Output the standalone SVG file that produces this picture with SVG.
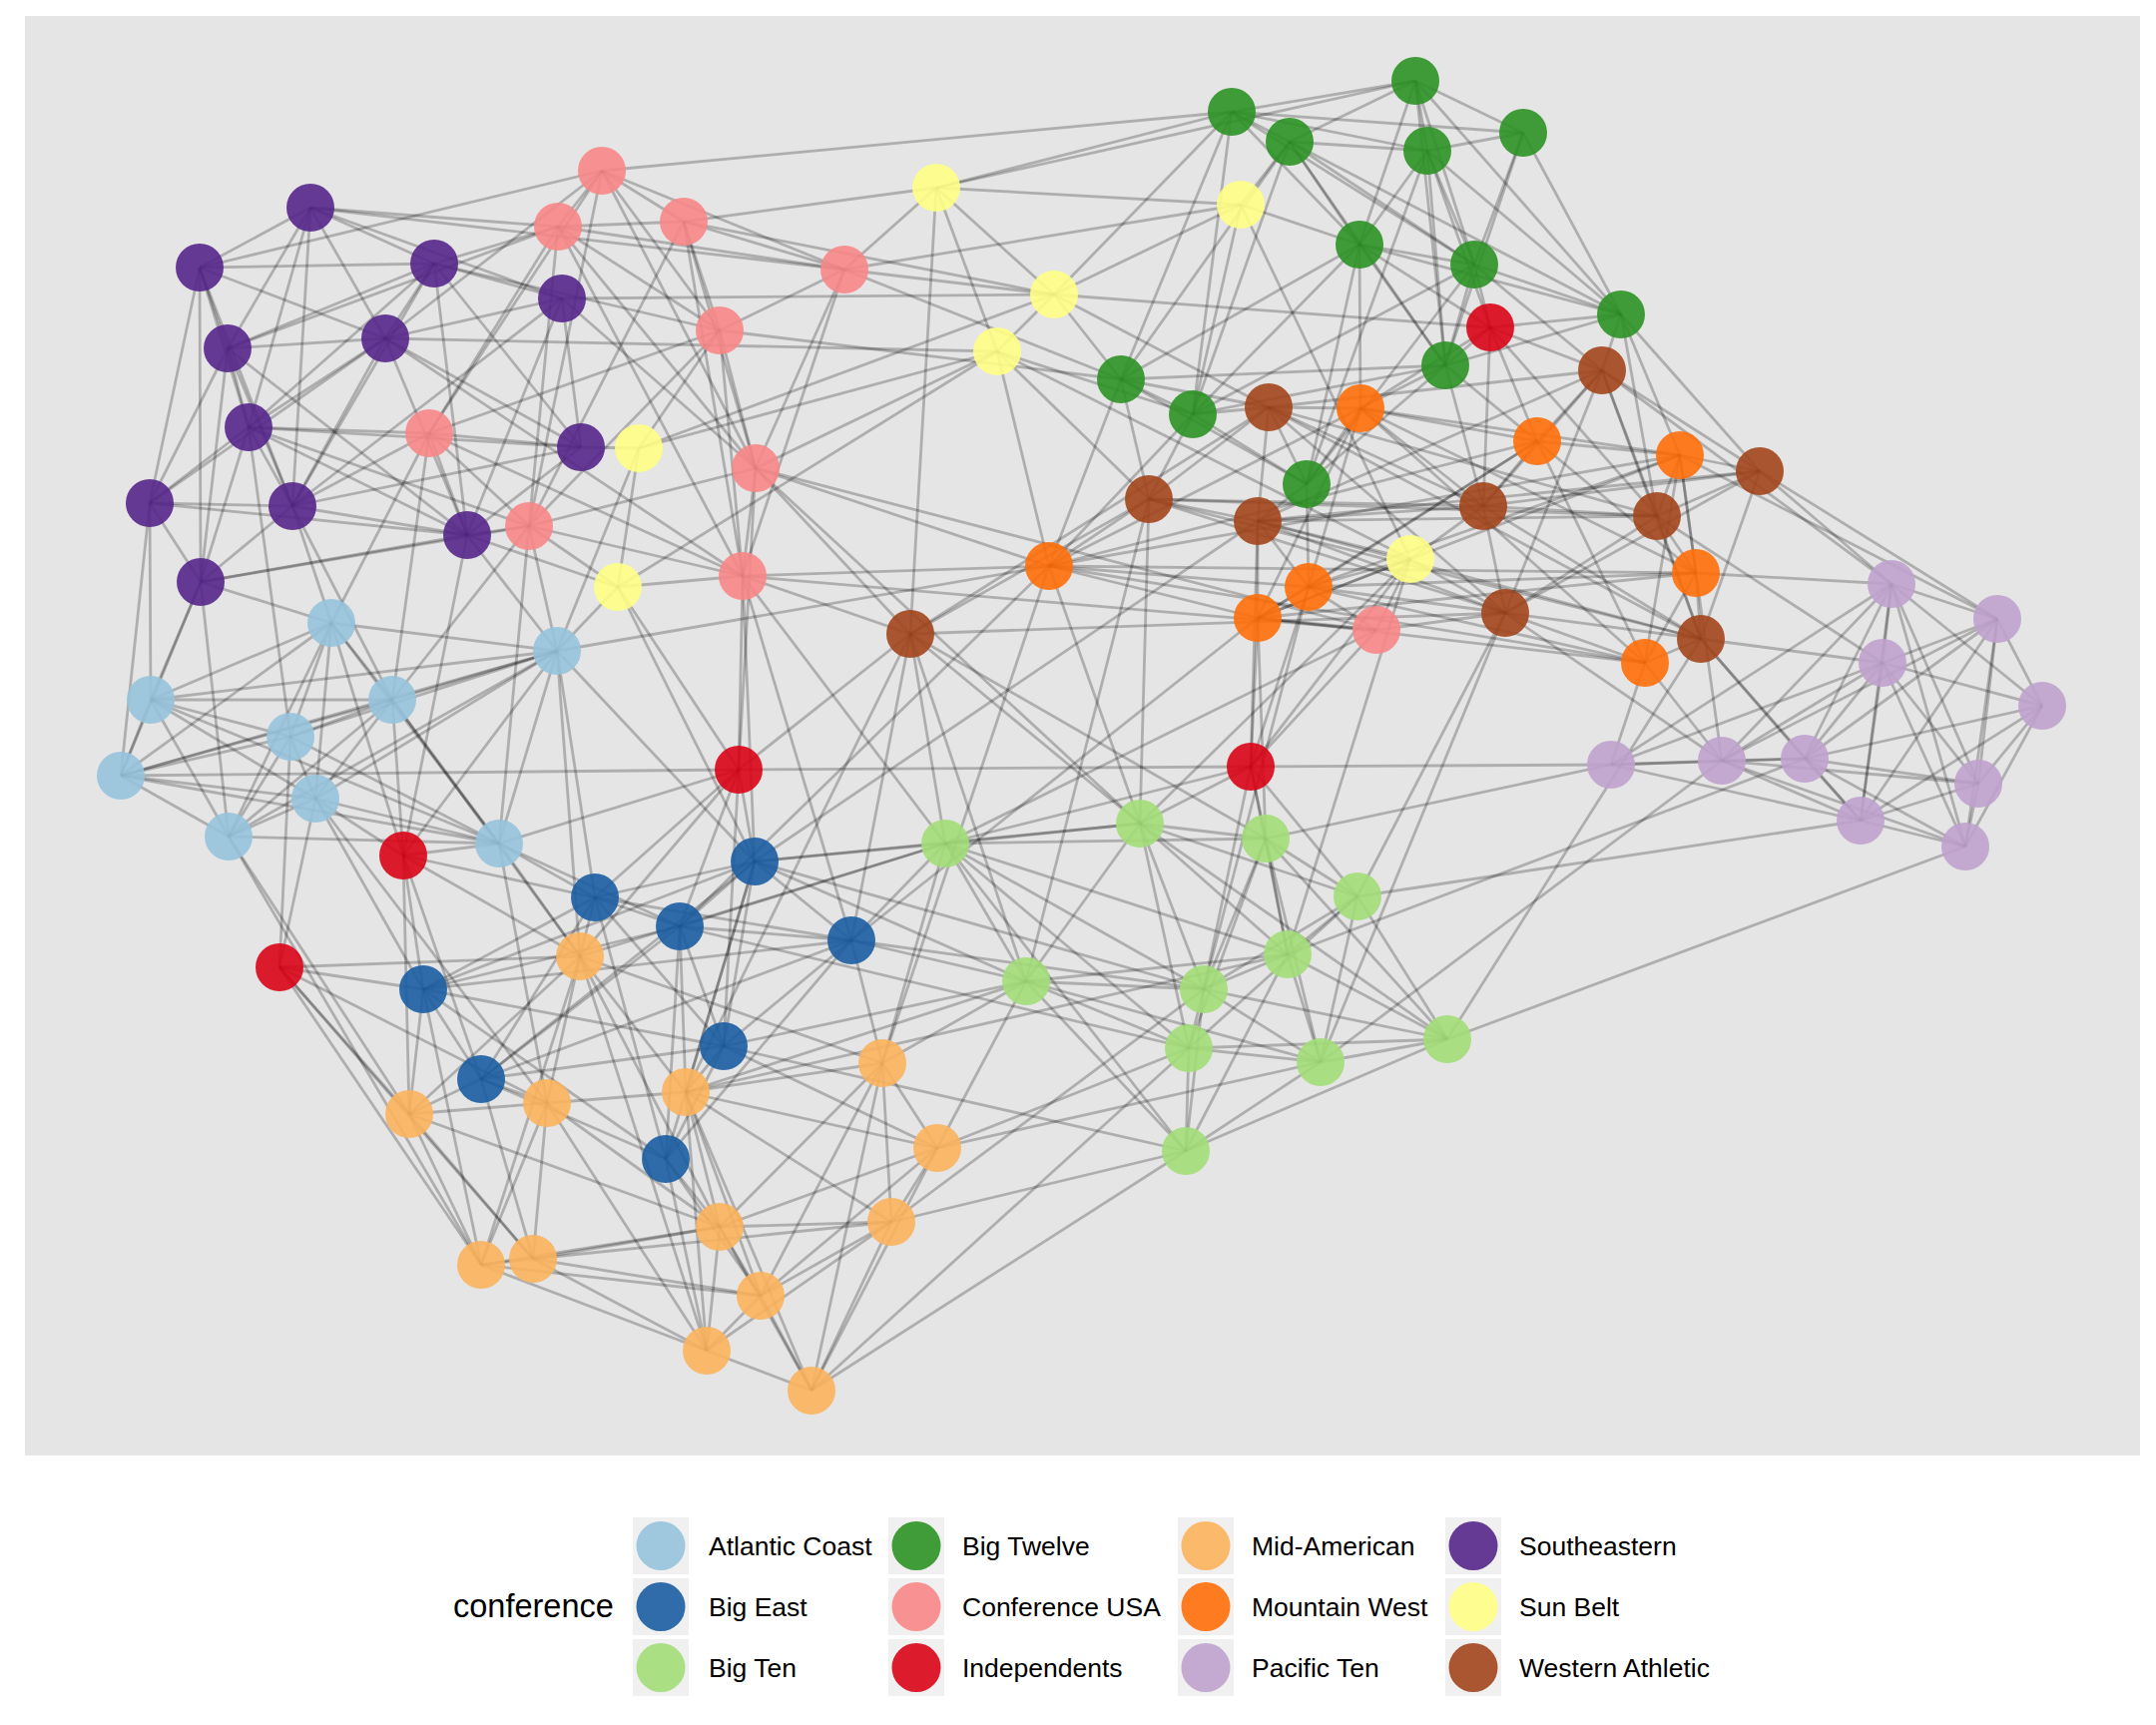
<svg xmlns="http://www.w3.org/2000/svg" width="2160" height="1728" viewBox="0 0 2160 1728">
<style>
#connectors path{fill:none;stroke:#000;stroke-opacity:.24;stroke-width:2.8}
.nd circle,.key circle{fill-opacity:.9}
.ac{fill:#96C3DB}.be{fill:#195DA1}.bt{fill:#A3DD77}.b12{fill:#2C9223}.cu{fill:#F88787}.ind{fill:#D90317}
.mac{fill:#FBB35C}.mw{fill:#FF6E08}.p10{fill:#BFA1CD}.sec{fill:#55268A}.sb{fill:#FFFE85}.wac{fill:#A2451B}
.key rect{fill:#F0F0F0}
text{font-family:"Liberation Sans",Arial,Helvetica,sans-serif;fill:#000}
.lt{font-size:26.5px}
.ttl{font-size:32.5px}
</style>
<rect width="2160" height="1728" fill="#FFFFFF"/>
<rect x="25" y="16" width="2119" height="1442" fill="#E5E5E5"/>
<g id="connectors">
<path d="M332 624 558 652"/><path d="M332 624 151 701"/><path d="M332 624 393 701"/><path d="M332 624 291 738"/><path d="M332 624 121 777"/><path d="M332 624 316 800"/><path d="M332 624 229 838"/><path d="M332 624 500 845"/>
<path d="M558 652 151 701"/><path d="M558 652 393 701"/><path d="M558 652 291 738"/><path d="M558 652 121 777"/><path d="M558 652 316 800"/><path d="M558 652 229 838"/><path d="M558 652 500 845"/>
<path d="M151 701 393 701"/><path d="M151 701 291 738"/><path d="M151 701 121 777"/><path d="M151 701 316 800"/><path d="M151 701 229 838"/><path d="M151 701 500 845"/>
<path d="M393 701 291 738"/><path d="M393 701 121 777"/><path d="M393 701 316 800"/><path d="M393 701 229 838"/><path d="M393 701 500 845"/>
<path d="M291 738 121 777"/><path d="M291 738 316 800"/><path d="M291 738 229 838"/><path d="M291 738 500 845"/>
<path d="M121 777 316 800"/><path d="M121 777 229 838"/><path d="M121 777 500 845"/>
<path d="M316 800 229 838"/><path d="M316 800 500 845"/><path d="M229 838 500 845"/>
<path d="M756 863 596 899"/><path d="M756 863 681 928"/><path d="M756 863 853 942"/><path d="M756 863 424 991"/><path d="M756 863 725 1048"/><path d="M756 863 482 1081"/><path d="M756 863 667 1161"/>
<path d="M596 899 681 928"/><path d="M596 899 853 942"/><path d="M596 899 424 991"/><path d="M596 899 725 1048"/><path d="M596 899 482 1081"/><path d="M596 899 667 1161"/>
<path d="M681 928 853 942"/><path d="M681 928 424 991"/><path d="M681 928 725 1048"/><path d="M681 928 482 1081"/><path d="M681 928 667 1161"/>
<path d="M853 942 424 991"/><path d="M853 942 725 1048"/><path d="M853 942 482 1081"/><path d="M853 942 667 1161"/>
<path d="M424 991 725 1048"/><path d="M424 991 482 1081"/><path d="M424 991 667 1161"/>
<path d="M725 1048 482 1081"/><path d="M725 1048 667 1161"/><path d="M482 1081 667 1161"/>
<path d="M1363 409 1540 442"/><path d="M1363 409 1683 456"/><path d="M1363 409 1051 567"/><path d="M1363 409 1311 588"/><path d="M1363 409 1260 619"/><path d="M1363 409 1699 574"/><path d="M1363 409 1648 664"/>
<path d="M1540 442 1683 456"/><path d="M1540 442 1051 567"/><path d="M1540 442 1311 588"/><path d="M1540 442 1260 619"/><path d="M1540 442 1699 574"/><path d="M1540 442 1648 664"/>
<path d="M1683 456 1051 567"/><path d="M1683 456 1311 588"/><path d="M1683 456 1260 619"/><path d="M1683 456 1699 574"/><path d="M1683 456 1648 664"/>
<path d="M1051 567 1311 588"/><path d="M1051 567 1260 619"/><path d="M1051 567 1699 574"/><path d="M1051 567 1648 664"/>
<path d="M1311 588 1260 619"/><path d="M1311 588 1699 574"/><path d="M1311 588 1648 664"/>
<path d="M1260 619 1699 574"/><path d="M1260 619 1648 664"/><path d="M1699 574 1648 664"/>
<path d="M947 845 1142 825"/><path d="M947 845 1268 840"/><path d="M947 845 1290 956"/><path d="M947 845 1028 983"/><path d="M947 845 1206 991"/><path d="M947 845 1191 1050"/><path d="M947 845 1188 1153"/>
<path d="M1142 825 1268 840"/><path d="M1142 825 1360 898"/><path d="M1142 825 1290 956"/><path d="M1142 825 1028 983"/><path d="M1142 825 1206 991"/><path d="M1142 825 1191 1050"/><path d="M1142 825 1450 1041"/>
<path d="M1268 840 1360 898"/><path d="M1268 840 1290 956"/><path d="M1268 840 1206 991"/><path d="M1268 840 1191 1050"/><path d="M1268 840 1323 1064"/><path d="M1268 840 1450 1041"/>
<path d="M1360 898 1290 956"/><path d="M1360 898 1206 991"/><path d="M1360 898 1191 1050"/><path d="M1360 898 1323 1064"/><path d="M1360 898 1450 1041"/>
<path d="M1290 956 1028 983"/><path d="M1290 956 1206 991"/><path d="M1290 956 1323 1064"/><path d="M1290 956 1450 1041"/><path d="M1290 956 1188 1153"/>
<path d="M1028 983 1206 991"/><path d="M1028 983 1191 1050"/><path d="M1028 983 1323 1064"/><path d="M1028 983 1188 1153"/>
<path d="M1206 991 1191 1050"/><path d="M1206 991 1323 1064"/><path d="M1206 991 1450 1041"/><path d="M1206 991 1188 1153"/>
<path d="M1191 1050 1323 1064"/><path d="M1191 1050 1450 1041"/><path d="M1191 1050 1188 1153"/>
<path d="M1323 1064 1450 1041"/><path d="M1323 1064 1188 1153"/><path d="M1450 1041 1188 1153"/>
<path d="M1418 81 1234 112"/><path d="M1418 81 1292 142"/><path d="M1418 81 1430 151"/><path d="M1418 81 1526 133"/><path d="M1418 81 1362 245"/><path d="M1418 81 1477 265"/><path d="M1418 81 1624 315"/><path d="M1418 81 1448 366"/>
<path d="M1234 112 1292 142"/><path d="M1234 112 1430 151"/><path d="M1234 112 1526 133"/><path d="M1234 112 1362 245"/><path d="M1234 112 1477 265"/><path d="M1234 112 1123 380"/><path d="M1234 112 1195 415"/>
<path d="M1292 142 1430 151"/><path d="M1292 142 1362 245"/><path d="M1292 142 1477 265"/><path d="M1292 142 1624 315"/><path d="M1292 142 1448 366"/><path d="M1292 142 1123 380"/><path d="M1292 142 1195 415"/>
<path d="M1430 151 1526 133"/><path d="M1430 151 1362 245"/><path d="M1430 151 1477 265"/><path d="M1430 151 1624 315"/><path d="M1430 151 1448 366"/><path d="M1430 151 1309 485"/>
<path d="M1526 133 1477 265"/><path d="M1526 133 1624 315"/><path d="M1526 133 1448 366"/>
<path d="M1362 245 1477 265"/><path d="M1362 245 1624 315"/><path d="M1362 245 1448 366"/><path d="M1362 245 1123 380"/><path d="M1362 245 1195 415"/><path d="M1362 245 1309 485"/>
<path d="M1477 265 1624 315"/><path d="M1477 265 1448 366"/><path d="M1477 265 1195 415"/><path d="M1477 265 1309 485"/>
<path d="M1624 315 1448 366"/><path d="M1448 366 1123 380"/><path d="M1448 366 1195 415"/><path d="M1448 366 1309 485"/>
<path d="M1123 380 1195 415"/><path d="M1123 380 1309 485"/><path d="M1195 415 1309 485"/>
<path d="M1895 585 2001 620"/><path d="M1895 585 1886 664"/><path d="M1895 585 2046 707"/><path d="M1895 585 1614 766"/><path d="M1895 585 1725 762"/><path d="M1895 585 1808 760"/><path d="M1895 585 1982 785"/><path d="M1895 585 1864 822"/><path d="M1895 585 1969 848"/>
<path d="M2001 620 1886 664"/><path d="M2001 620 2046 707"/><path d="M2001 620 1725 762"/><path d="M2001 620 1808 760"/><path d="M2001 620 1982 785"/><path d="M2001 620 1864 822"/><path d="M2001 620 1969 848"/>
<path d="M1886 664 2046 707"/><path d="M1886 664 1614 766"/><path d="M1886 664 1725 762"/><path d="M1886 664 1808 760"/><path d="M1886 664 1982 785"/><path d="M1886 664 1864 822"/><path d="M1886 664 1969 848"/>
<path d="M2046 707 1808 760"/><path d="M2046 707 1982 785"/><path d="M2046 707 1864 822"/><path d="M2046 707 1969 848"/>
<path d="M1614 766 1725 762"/><path d="M1614 766 1808 760"/><path d="M1614 766 1864 822"/>
<path d="M1725 762 1808 760"/><path d="M1725 762 1982 785"/><path d="M1725 762 1864 822"/><path d="M1725 762 1969 848"/>
<path d="M1808 760 1982 785"/><path d="M1808 760 1864 822"/><path d="M1808 760 1969 848"/>
<path d="M1982 785 1864 822"/><path d="M1982 785 1969 848"/><path d="M1864 822 1969 848"/>
<path d="M311 208 200 268"/><path d="M311 208 435 264"/><path d="M311 208 563 299"/><path d="M311 208 228 349"/><path d="M311 208 386 339"/><path d="M311 208 249 428"/><path d="M311 208 293 507"/>
<path d="M200 268 435 264"/><path d="M200 268 228 349"/><path d="M200 268 386 339"/><path d="M200 268 249 428"/><path d="M200 268 150 504"/><path d="M200 268 293 507"/><path d="M200 268 201 583"/>
<path d="M435 264 563 299"/><path d="M435 264 228 349"/><path d="M435 264 386 339"/><path d="M435 264 249 428"/><path d="M435 264 582 448"/><path d="M435 264 293 507"/><path d="M435 264 468 536"/>
<path d="M563 299 386 339"/><path d="M563 299 582 448"/><path d="M563 299 293 507"/><path d="M563 299 468 536"/>
<path d="M228 349 386 339"/><path d="M228 349 249 428"/><path d="M228 349 150 504"/><path d="M228 349 293 507"/><path d="M228 349 468 536"/><path d="M228 349 201 583"/>
<path d="M386 339 249 428"/><path d="M386 339 582 448"/><path d="M386 339 150 504"/><path d="M386 339 293 507"/><path d="M386 339 468 536"/>
<path d="M249 428 582 448"/><path d="M249 428 150 504"/><path d="M249 428 293 507"/><path d="M249 428 468 536"/><path d="M249 428 201 583"/>
<path d="M582 448 293 507"/><path d="M582 448 468 536"/><path d="M150 504 293 507"/><path d="M150 504 201 583"/>
<path d="M293 507 468 536"/><path d="M293 507 201 583"/><path d="M468 536 201 583"/>
<path d="M603 171 559 227"/><path d="M603 171 685 222"/><path d="M603 171 846 270"/><path d="M603 171 721 331"/><path d="M603 171 430 434"/><path d="M603 171 757 469"/><path d="M603 171 530 527"/>
<path d="M559 227 685 222"/><path d="M559 227 846 270"/><path d="M559 227 721 331"/><path d="M559 227 430 434"/><path d="M559 227 757 469"/><path d="M559 227 530 527"/><path d="M559 227 744 577"/>
<path d="M685 222 846 270"/><path d="M685 222 721 331"/><path d="M685 222 757 469"/><path d="M685 222 530 527"/><path d="M685 222 744 577"/>
<path d="M846 270 721 331"/><path d="M846 270 757 469"/><path d="M846 270 744 577"/>
<path d="M721 331 430 434"/><path d="M721 331 757 469"/><path d="M721 331 530 527"/><path d="M721 331 744 577"/>
<path d="M430 434 530 527"/><path d="M430 434 744 577"/>
<path d="M757 469 530 527"/><path d="M757 469 744 577"/><path d="M757 469 1379 631"/><path d="M530 527 744 577"/><path d="M744 577 1379 631"/>
<path d="M581 958 410 1116"/><path d="M581 958 548 1105"/><path d="M581 958 687 1094"/><path d="M581 958 884 1065"/><path d="M581 958 721 1229"/><path d="M581 958 482 1267"/><path d="M581 958 708 1353"/>
<path d="M410 1116 548 1105"/><path d="M410 1116 721 1229"/><path d="M410 1116 482 1267"/><path d="M410 1116 534 1261"/>
<path d="M548 1105 687 1094"/><path d="M548 1105 721 1229"/><path d="M548 1105 482 1267"/><path d="M548 1105 534 1261"/><path d="M548 1105 708 1353"/>
<path d="M687 1094 884 1065"/><path d="M687 1094 939 1150"/><path d="M687 1094 721 1229"/><path d="M687 1094 893 1224"/><path d="M687 1094 762 1298"/><path d="M687 1094 708 1353"/><path d="M687 1094 813 1393"/>
<path d="M884 1065 939 1150"/><path d="M884 1065 721 1229"/><path d="M884 1065 893 1224"/><path d="M884 1065 762 1298"/><path d="M884 1065 813 1393"/>
<path d="M939 1150 721 1229"/><path d="M939 1150 893 1224"/><path d="M939 1150 762 1298"/><path d="M939 1150 813 1393"/>
<path d="M721 1229 893 1224"/><path d="M721 1229 482 1267"/><path d="M721 1229 534 1261"/><path d="M721 1229 762 1298"/><path d="M721 1229 708 1353"/><path d="M721 1229 813 1393"/>
<path d="M893 1224 534 1261"/><path d="M893 1224 762 1298"/><path d="M893 1224 708 1353"/><path d="M893 1224 813 1393"/>
<path d="M482 1267 534 1261"/><path d="M482 1267 762 1298"/><path d="M482 1267 708 1353"/>
<path d="M534 1261 762 1298"/><path d="M534 1261 708 1353"/><path d="M762 1298 708 1353"/><path d="M762 1298 813 1393"/><path d="M708 1353 813 1393"/>
<path d="M1271 408 1605 371"/><path d="M1271 408 1151 500"/><path d="M1271 408 1260 522"/><path d="M1271 408 1486 507"/><path d="M1271 408 1660 517"/><path d="M1271 408 1508 614"/><path d="M1271 408 1704 640"/><path d="M1271 408 912 635"/>
<path d="M1605 371 1260 522"/><path d="M1605 371 1486 507"/><path d="M1605 371 1763 472"/><path d="M1605 371 1660 517"/><path d="M1605 371 1508 614"/><path d="M1605 371 1704 640"/>
<path d="M1151 500 1260 522"/><path d="M1151 500 1486 507"/><path d="M1151 500 1660 517"/><path d="M1151 500 1508 614"/><path d="M1151 500 1704 640"/><path d="M1151 500 912 635"/>
<path d="M1260 522 1486 507"/><path d="M1260 522 1763 472"/><path d="M1260 522 1660 517"/><path d="M1260 522 1508 614"/><path d="M1260 522 1704 640"/>
<path d="M1486 507 1763 472"/><path d="M1486 507 1660 517"/><path d="M1486 507 1508 614"/><path d="M1486 507 1704 640"/>
<path d="M1763 472 1660 517"/><path d="M1763 472 1508 614"/><path d="M1763 472 1704 640"/>
<path d="M1660 517 1508 614"/><path d="M1660 517 1704 640"/><path d="M1508 614 1704 640"/><path d="M1508 614 912 635"/>
<path d="M938 188 1243 205"/><path d="M938 188 1056 295"/><path d="M938 188 999 352"/><path d="M1243 205 1056 295"/><path d="M1056 295 999 352"/><path d="M999 352 640 449"/><path d="M640 449 619 588"/><path d="M640 449 1056 295"/><path d="M999 352 1413 560"/><path d="M1243 205 1413 560"/><path d="M619 588 999 352"/>
<path d="M1493 328 1477 265"/><path d="M1493 328 1448 366"/><path d="M1493 328 1624 315"/><path d="M1493 328 1605 371"/><path d="M1493 328 1540 442"/><path d="M1493 328 1486 507"/><path d="M1493 328 1362 245"/><path d="M1493 328 1363 409"/><path d="M1493 328 1056 295"/><path d="M1493 328 1430 151"/><path d="M1493 328 1660 517"/>
<path d="M740 771 744 577"/><path d="M740 771 757 469"/><path d="M740 771 756 863"/><path d="M740 771 596 899"/><path d="M740 771 681 928"/><path d="M740 771 500 845"/><path d="M740 771 121 777"/><path d="M740 771 1253 768"/><path d="M740 771 619 588"/><path d="M740 771 581 958"/><path d="M740 771 912 635"/><path d="M740 771 725 1048"/>
<path d="M1253 768 1142 825"/><path d="M1253 768 1268 840"/><path d="M1253 768 1290 956"/><path d="M1253 768 1260 619"/><path d="M1253 768 1311 588"/><path d="M1253 768 1379 631"/><path d="M1253 768 1614 766"/><path d="M1253 768 1360 898"/><path d="M1253 768 1260 522"/><path d="M1253 768 1413 560"/><path d="M1253 768 1206 991"/>
<path d="M404 857 393 701"/><path d="M404 857 316 800"/><path d="M404 857 500 845"/><path d="M404 857 424 991"/><path d="M404 857 482 1081"/><path d="M404 857 410 1116"/><path d="M404 857 581 958"/><path d="M404 857 332 624"/><path d="M404 857 558 652"/><path d="M404 857 596 899"/><path d="M404 857 468 536"/>
<path d="M280 969 410 1116"/><path d="M280 969 482 1267"/><path d="M280 969 316 800"/><path d="M280 969 424 991"/><path d="M280 969 581 958"/><path d="M280 969 534 1261"/><path d="M280 969 291 738"/><path d="M280 969 548 1105"/>
<path d="M311 208 559 227"/><path d="M311 208 846 270"/><path d="M200 268 603 171"/><path d="M435 264 559 227"/><path d="M386 339 603 171"/><path d="M293 507 430 434"/><path d="M468 536 530 527"/><path d="M249 428 530 527"/><path d="M563 299 757 469"/><path d="M582 448 430 434"/><path d="M228 349 559 227"/><path d="M435 264 721 331"/><path d="M386 339 744 577"/>
<path d="M582 448 640 449"/><path d="M468 536 619 588"/><path d="M563 299 1056 295"/><path d="M386 339 999 352"/><path d="M150 504 121 777"/><path d="M201 583 151 701"/><path d="M201 583 332 624"/><path d="M293 507 332 624"/><path d="M249 428 291 738"/><path d="M150 504 151 701"/><path d="M468 536 558 652"/><path d="M293 507 393 701"/><path d="M201 583 229 838"/><path d="M249 428 430 434"/><path d="M150 504 468 536"/><path d="M201 583 530 527"/><path d="M430 434 468 536"/><path d="M121 777 201 583"/>
<path d="M721 331 640 449"/><path d="M530 527 619 588"/><path d="M744 577 619 588"/><path d="M685 222 938 188"/><path d="M846 270 938 188"/><path d="M846 270 1056 295"/><path d="M757 469 999 352"/><path d="M603 171 1234 112"/><path d="M846 270 1123 380"/><path d="M721 331 1123 380"/><path d="M846 270 1243 205"/><path d="M744 577 756 863"/><path d="M430 434 332 624"/><path d="M430 434 393 701"/><path d="M530 527 558 652"/><path d="M744 577 912 635"/><path d="M757 469 912 635"/><path d="M685 222 1056 295"/><path d="M530 527 500 845"/><path d="M757 469 1051 567"/><path d="M744 577 1051 567"/><path d="M1379 631 1260 619"/><path d="M1379 631 1508 614"/><path d="M1379 631 1311 588"/><path d="M1379 631 1413 560"/>
<path d="M938 188 1234 112"/><path d="M938 188 1418 81"/><path d="M938 188 912 635"/><path d="M1243 205 1292 142"/><path d="M1243 205 1362 245"/><path d="M1243 205 1195 415"/><path d="M1056 295 1123 380"/><path d="M999 352 1195 415"/><path d="M1056 295 1234 112"/><path d="M999 352 1151 500"/><path d="M1056 295 1271 408"/><path d="M1413 560 1486 507"/><path d="M1413 560 1311 588"/><path d="M1413 560 1508 614"/><path d="M1413 560 1260 619"/><path d="M1413 560 1260 522"/><path d="M999 352 1051 567"/><path d="M619 588 558 652"/>
<path d="M1309 485 1260 522"/><path d="M1309 485 1363 409"/><path d="M1309 485 1271 408"/><path d="M1448 366 1486 507"/><path d="M1477 265 1605 371"/><path d="M1624 315 1605 371"/><path d="M1624 315 1763 472"/><path d="M1195 415 1151 500"/><path d="M1123 380 1151 500"/><path d="M1362 245 1363 409"/><path d="M1448 366 1540 442"/><path d="M1309 485 1311 588"/><path d="M1195 415 1051 567"/><path d="M1123 380 1051 567"/><path d="M1448 366 1363 409"/><path d="M1195 415 1271 408"/><path d="M1123 380 1271 408"/><path d="M1624 315 1683 456"/><path d="M1624 315 1660 517"/>
<path d="M1363 409 1271 408"/><path d="M1540 442 1486 507"/><path d="M1683 456 1763 472"/><path d="M1683 456 1660 517"/><path d="M1699 574 1704 640"/><path d="M1648 664 1704 640"/><path d="M1648 664 1508 614"/><path d="M1260 619 1260 522"/><path d="M1311 588 1260 522"/><path d="M1051 567 1151 500"/><path d="M1540 442 1605 371"/><path d="M1699 574 1660 517"/><path d="M1311 588 1508 614"/><path d="M1363 409 1486 507"/>
<path d="M1763 472 1895 585"/><path d="M1704 640 1886 664"/><path d="M1699 574 1895 585"/><path d="M1648 664 1614 766"/><path d="M1683 456 2001 620"/><path d="M1660 517 1886 664"/><path d="M1648 664 1725 762"/><path d="M1508 614 1725 762"/><path d="M1605 371 1895 585"/><path d="M1763 472 2001 620"/><path d="M1704 640 1808 760"/><path d="M1683 456 1725 762"/><path d="M1704 640 1864 822"/>
<path d="M1450 1041 1969 848"/><path d="M1360 898 1864 822"/><path d="M1290 956 1808 760"/><path d="M1268 840 1614 766"/><path d="M1323 1064 1725 762"/>
<path d="M1028 983 884 1065"/><path d="M947 845 884 1065"/><path d="M1188 1153 893 1224"/><path d="M1188 1153 813 1393"/><path d="M1191 1050 939 1150"/><path d="M1028 983 939 1150"/><path d="M1028 983 687 1094"/><path d="M947 845 581 958"/><path d="M1191 1050 813 1393"/><path d="M1323 1064 939 1150"/><path d="M1206 991 893 1224"/>
<path d="M947 845 853 942"/><path d="M1028 983 853 942"/><path d="M947 845 756 863"/><path d="M1206 991 853 942"/><path d="M1142 825 756 863"/><path d="M1028 983 725 1048"/>
<path d="M1268 840 1260 619"/><path d="M1142 825 1051 567"/><path d="M947 845 912 635"/><path d="M1028 983 912 635"/><path d="M1206 991 1311 588"/><path d="M1323 1064 1508 614"/><path d="M1450 1041 1704 640"/><path d="M1290 956 1413 560"/><path d="M1360 898 1508 614"/><path d="M1142 825 1151 500"/>
<path d="M596 899 581 958"/><path d="M681 928 687 1094"/><path d="M725 1048 687 1094"/><path d="M667 1161 721 1229"/><path d="M667 1161 762 1298"/><path d="M482 1081 410 1116"/><path d="M482 1081 548 1105"/><path d="M424 991 410 1116"/><path d="M853 942 884 1065"/><path d="M756 863 687 1094"/><path d="M725 1048 939 1150"/><path d="M667 1161 708 1353"/><path d="M424 991 482 1267"/><path d="M482 1081 534 1261"/>
<path d="M596 899 558 652"/><path d="M424 991 316 800"/><path d="M681 928 500 845"/><path d="M756 863 558 652"/><path d="M596 899 500 845"/><path d="M756 863 619 588"/><path d="M853 942 744 577"/><path d="M853 942 912 635"/>
<path d="M500 845 581 958"/><path d="M558 652 581 958"/><path d="M229 838 410 1116"/><path d="M316 800 548 1105"/><path d="M393 701 581 958"/><path d="M229 838 482 1267"/><path d="M500 845 548 1105"/>
<path d="M558 652 640 449"/><path d="M393 701 530 527"/><path d="M558 652 1051 567"/>
<path d="M947 845 1253 768"/><path d="M947 845 744 577"/><path d="M1142 825 912 635"/><path d="M1028 983 756 863"/><path d="M947 845 681 928"/><path d="M1206 991 756 863"/><path d="M1268 840 912 635"/><path d="M1191 1050 681 928"/><path d="M1188 1153 725 1048"/><path d="M1290 956 687 1094"/>
<path d="M1260 619 853 942"/><path d="M1051 567 681 928"/><path d="M1260 522 756 863"/><path d="M1379 631 947 845"/><path d="M1151 500 1028 983"/><path d="M1413 560 1142 825"/><path d="M1051 567 884 1065"/><path d="M757 469 1142 825"/><path d="M912 635 687 1094"/>
</g>
<g id="nodes">
<g id="n-a1" class="nd"><circle class="ac" cx="332" cy="624" r="24"/></g>
<g id="n-a2" class="nd"><circle class="ac" cx="558" cy="652" r="24"/></g>
<g id="n-a3" class="nd"><circle class="ac" cx="151" cy="701" r="24"/></g>
<g id="n-a4" class="nd"><circle class="ac" cx="393" cy="701" r="24"/></g>
<g id="n-a5" class="nd"><circle class="ac" cx="291" cy="738" r="24"/></g>
<g id="n-a6" class="nd"><circle class="ac" cx="121" cy="777" r="24"/></g>
<g id="n-a7" class="nd"><circle class="ac" cx="316" cy="800" r="24"/></g>
<g id="n-a8" class="nd"><circle class="ac" cx="229" cy="838" r="24"/></g>
<g id="n-a9" class="nd"><circle class="ac" cx="500" cy="845" r="24"/></g>
<g id="n-e1" class="nd"><circle class="be" cx="756" cy="863" r="24"/></g>
<g id="n-e2" class="nd"><circle class="be" cx="596" cy="899" r="24"/></g>
<g id="n-e3" class="nd"><circle class="be" cx="681" cy="928" r="24"/></g>
<g id="n-e4" class="nd"><circle class="be" cx="853" cy="942" r="24"/></g>
<g id="n-e5" class="nd"><circle class="be" cx="424" cy="991" r="24"/></g>
<g id="n-e6" class="nd"><circle class="be" cx="725" cy="1048" r="24"/></g>
<g id="n-e7" class="nd"><circle class="be" cx="482" cy="1081" r="24"/></g>
<g id="n-e8" class="nd"><circle class="be" cx="667" cy="1161" r="24"/></g>
<g id="n-t1" class="nd"><circle class="bt" cx="947" cy="845" r="24"/></g>
<g id="n-t2" class="nd"><circle class="bt" cx="1142" cy="825" r="24"/></g>
<g id="n-t3" class="nd"><circle class="bt" cx="1268" cy="840" r="24"/></g>
<g id="n-t4" class="nd"><circle class="bt" cx="1360" cy="898" r="24"/></g>
<g id="n-t5" class="nd"><circle class="bt" cx="1290" cy="956" r="24"/></g>
<g id="n-t6" class="nd"><circle class="bt" cx="1028" cy="983" r="24"/></g>
<g id="n-t7" class="nd"><circle class="bt" cx="1206" cy="991" r="24"/></g>
<g id="n-t8" class="nd"><circle class="bt" cx="1191" cy="1050" r="24"/></g>
<g id="n-t9" class="nd"><circle class="bt" cx="1323" cy="1064" r="24"/></g>
<g id="n-t10" class="nd"><circle class="bt" cx="1450" cy="1041" r="24"/></g>
<g id="n-t11" class="nd"><circle class="bt" cx="1188" cy="1153" r="24"/></g>
<g id="n-g1" class="nd"><circle class="b12" cx="1418" cy="81" r="24"/></g>
<g id="n-g2" class="nd"><circle class="b12" cx="1234" cy="112" r="24"/></g>
<g id="n-g3" class="nd"><circle class="b12" cx="1292" cy="142" r="24"/></g>
<g id="n-g4" class="nd"><circle class="b12" cx="1430" cy="151" r="24"/></g>
<g id="n-g5" class="nd"><circle class="b12" cx="1526" cy="133" r="24"/></g>
<g id="n-g6" class="nd"><circle class="b12" cx="1362" cy="245" r="24"/></g>
<g id="n-g7" class="nd"><circle class="b12" cx="1477" cy="265" r="24"/></g>
<g id="n-g8" class="nd"><circle class="b12" cx="1624" cy="315" r="24"/></g>
<g id="n-g9" class="nd"><circle class="b12" cx="1448" cy="366" r="24"/></g>
<g id="n-g10" class="nd"><circle class="b12" cx="1123" cy="380" r="24"/></g>
<g id="n-g11" class="nd"><circle class="b12" cx="1195" cy="415" r="24"/></g>
<g id="n-g12" class="nd"><circle class="b12" cx="1309" cy="485" r="24"/></g>
<g id="n-c1" class="nd"><circle class="cu" cx="603" cy="171" r="24"/></g>
<g id="n-c2" class="nd"><circle class="cu" cx="559" cy="227" r="24"/></g>
<g id="n-c3" class="nd"><circle class="cu" cx="685" cy="222" r="24"/></g>
<g id="n-c4" class="nd"><circle class="cu" cx="846" cy="270" r="24"/></g>
<g id="n-c5" class="nd"><circle class="cu" cx="721" cy="331" r="24"/></g>
<g id="n-c6" class="nd"><circle class="cu" cx="430" cy="434" r="24"/></g>
<g id="n-c7" class="nd"><circle class="cu" cx="757" cy="469" r="24"/></g>
<g id="n-c8" class="nd"><circle class="cu" cx="530" cy="527" r="24"/></g>
<g id="n-c9" class="nd"><circle class="cu" cx="744" cy="577" r="24"/></g>
<g id="n-c10" class="nd"><circle class="cu" cx="1379" cy="631" r="24"/></g>
<g id="n-i1" class="nd"><circle class="ind" cx="1493" cy="328" r="24"/></g>
<g id="n-i2" class="nd"><circle class="ind" cx="740" cy="771" r="24"/></g>
<g id="n-i3" class="nd"><circle class="ind" cx="1253" cy="768" r="24"/></g>
<g id="n-i4" class="nd"><circle class="ind" cx="404" cy="857" r="24"/></g>
<g id="n-i5" class="nd"><circle class="ind" cx="280" cy="969" r="24"/></g>
<g id="n-m1" class="nd"><circle class="mac" cx="581" cy="958" r="24"/></g>
<g id="n-m2" class="nd"><circle class="mac" cx="410" cy="1116" r="24"/></g>
<g id="n-m3" class="nd"><circle class="mac" cx="548" cy="1105" r="24"/></g>
<g id="n-m4" class="nd"><circle class="mac" cx="687" cy="1094" r="24"/></g>
<g id="n-m5" class="nd"><circle class="mac" cx="884" cy="1065" r="24"/></g>
<g id="n-m6" class="nd"><circle class="mac" cx="939" cy="1150" r="24"/></g>
<g id="n-m7" class="nd"><circle class="mac" cx="721" cy="1229" r="24"/></g>
<g id="n-m8" class="nd"><circle class="mac" cx="893" cy="1224" r="24"/></g>
<g id="n-m9" class="nd"><circle class="mac" cx="482" cy="1267" r="24"/></g>
<g id="n-m10" class="nd"><circle class="mac" cx="534" cy="1261" r="24"/></g>
<g id="n-m11" class="nd"><circle class="mac" cx="762" cy="1298" r="24"/></g>
<g id="n-m12" class="nd"><circle class="mac" cx="708" cy="1353" r="24"/></g>
<g id="n-m13" class="nd"><circle class="mac" cx="813" cy="1393" r="24"/></g>
<g id="n-w1" class="nd"><circle class="mw" cx="1363" cy="409" r="24"/></g>
<g id="n-w2" class="nd"><circle class="mw" cx="1540" cy="442" r="24"/></g>
<g id="n-w3" class="nd"><circle class="mw" cx="1683" cy="456" r="24"/></g>
<g id="n-w4" class="nd"><circle class="mw" cx="1051" cy="567" r="24"/></g>
<g id="n-w5" class="nd"><circle class="mw" cx="1311" cy="588" r="24"/></g>
<g id="n-w6" class="nd"><circle class="mw" cx="1260" cy="619" r="24"/></g>
<g id="n-w7" class="nd"><circle class="mw" cx="1699" cy="574" r="24"/></g>
<g id="n-w8" class="nd"><circle class="mw" cx="1648" cy="664" r="24"/></g>
<g id="n-p1" class="nd"><circle class="p10" cx="1895" cy="585" r="24"/></g>
<g id="n-p2" class="nd"><circle class="p10" cx="2001" cy="620" r="24"/></g>
<g id="n-p3" class="nd"><circle class="p10" cx="1886" cy="664" r="24"/></g>
<g id="n-p4" class="nd"><circle class="p10" cx="2046" cy="707" r="24"/></g>
<g id="n-p5" class="nd"><circle class="p10" cx="1614" cy="766" r="24"/></g>
<g id="n-p6" class="nd"><circle class="p10" cx="1725" cy="762" r="24"/></g>
<g id="n-p7" class="nd"><circle class="p10" cx="1808" cy="760" r="24"/></g>
<g id="n-p8" class="nd"><circle class="p10" cx="1982" cy="785" r="24"/></g>
<g id="n-p9" class="nd"><circle class="p10" cx="1864" cy="822" r="24"/></g>
<g id="n-p10" class="nd"><circle class="p10" cx="1969" cy="848" r="24"/></g>
<g id="n-s1" class="nd"><circle class="sec" cx="311" cy="208" r="24"/></g>
<g id="n-s2" class="nd"><circle class="sec" cx="200" cy="268" r="24"/></g>
<g id="n-s3" class="nd"><circle class="sec" cx="435" cy="264" r="24"/></g>
<g id="n-s4" class="nd"><circle class="sec" cx="563" cy="299" r="24"/></g>
<g id="n-s5" class="nd"><circle class="sec" cx="228" cy="349" r="24"/></g>
<g id="n-s6" class="nd"><circle class="sec" cx="386" cy="339" r="24"/></g>
<g id="n-s7" class="nd"><circle class="sec" cx="249" cy="428" r="24"/></g>
<g id="n-s8" class="nd"><circle class="sec" cx="582" cy="448" r="24"/></g>
<g id="n-s9" class="nd"><circle class="sec" cx="150" cy="504" r="24"/></g>
<g id="n-s10" class="nd"><circle class="sec" cx="293" cy="507" r="24"/></g>
<g id="n-s11" class="nd"><circle class="sec" cx="468" cy="536" r="24"/></g>
<g id="n-s12" class="nd"><circle class="sec" cx="201" cy="583" r="24"/></g>
<g id="n-y1" class="nd"><circle class="sb" cx="938" cy="188" r="24"/></g>
<g id="n-y2" class="nd"><circle class="sb" cx="1243" cy="205" r="24"/></g>
<g id="n-y3" class="nd"><circle class="sb" cx="1056" cy="295" r="24"/></g>
<g id="n-y4" class="nd"><circle class="sb" cx="999" cy="352" r="24"/></g>
<g id="n-y5" class="nd"><circle class="sb" cx="640" cy="449" r="24"/></g>
<g id="n-y6" class="nd"><circle class="sb" cx="619" cy="588" r="24"/></g>
<g id="n-y7" class="nd"><circle class="sb" cx="1413" cy="560" r="24"/></g>
<g id="n-b1" class="nd"><circle class="wac" cx="1271" cy="408" r="24"/></g>
<g id="n-b2" class="nd"><circle class="wac" cx="1605" cy="371" r="24"/></g>
<g id="n-b3" class="nd"><circle class="wac" cx="1151" cy="500" r="24"/></g>
<g id="n-b4" class="nd"><circle class="wac" cx="1260" cy="522" r="24"/></g>
<g id="n-b5" class="nd"><circle class="wac" cx="1486" cy="507" r="24"/></g>
<g id="n-b6" class="nd"><circle class="wac" cx="1763" cy="472" r="24"/></g>
<g id="n-b7" class="nd"><circle class="wac" cx="1660" cy="517" r="24"/></g>
<g id="n-b8" class="nd"><circle class="wac" cx="1508" cy="614" r="24"/></g>
<g id="n-b9" class="nd"><circle class="wac" cx="1704" cy="640" r="24"/></g>
<g id="n-b10" class="nd"><circle class="wac" cx="912" cy="635" r="24"/></g>
</g>
<g id="legend">
<text class="ttl" x="454" y="1620">conference</text>
<g class="key">
<rect x="634" y="1520" width="56" height="57"/><circle class="ac" cx="662" cy="1548.5" r="24.5"/>
<rect x="634" y="1581" width="56" height="57"/><circle class="be" cx="662" cy="1609.5" r="24.5"/>
<rect x="634" y="1642" width="56" height="57"/><circle class="bt" cx="662" cy="1670.5" r="24.5"/>
<rect x="890" y="1520" width="56" height="57"/><circle class="b12" cx="918" cy="1548.5" r="24.5"/>
<rect x="890" y="1581" width="56" height="57"/><circle class="cu" cx="918" cy="1609.5" r="24.5"/>
<rect x="890" y="1642" width="56" height="57"/><circle class="ind" cx="918" cy="1670.5" r="24.5"/>
<rect x="1180" y="1520" width="56" height="57"/><circle class="mac" cx="1208" cy="1548.5" r="24.5"/>
<rect x="1180" y="1581" width="56" height="57"/><circle class="mw" cx="1208" cy="1609.5" r="24.5"/>
<rect x="1180" y="1642" width="56" height="57"/><circle class="p10" cx="1208" cy="1670.5" r="24.5"/>
<rect x="1448" y="1520" width="56" height="57"/><circle class="sec" cx="1476" cy="1548.5" r="24.5"/>
<rect x="1448" y="1581" width="56" height="57"/><circle class="sb" cx="1476" cy="1609.5" r="24.5"/>
<rect x="1448" y="1642" width="56" height="57"/><circle class="wac" cx="1476" cy="1670.5" r="24.5"/>
</g>
<text class="lt" x="710" y="1558">Atlantic Coast</text>
<text class="lt" x="710" y="1619">Big East</text>
<text class="lt" x="710" y="1680">Big Ten</text>
<text class="lt" x="964" y="1558">Big Twelve</text>
<text class="lt" x="964" y="1619">Conference USA</text>
<text class="lt" x="964" y="1680">Independents</text>
<text class="lt" x="1254" y="1558">Mid-American</text>
<text class="lt" x="1254" y="1619">Mountain West</text>
<text class="lt" x="1254" y="1680">Pacific Ten</text>
<text class="lt" x="1522" y="1558">Southeastern</text>
<text class="lt" x="1522" y="1619">Sun Belt</text>
<text class="lt" x="1522" y="1680">Western Athletic</text>
</g>
</svg>
